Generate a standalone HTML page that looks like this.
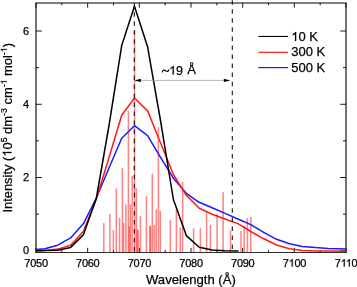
<!DOCTYPE html><html><head><meta charset="utf-8"><style>
html,body{margin:0;padding:0;background:#fff;}
svg{display:block;will-change:transform;}
text{font-family:"Liberation Sans",sans-serif;fill:#000;stroke:#000;stroke-width:0.25px;}
.o1{fill:none;stroke:none;}
</style></head><body>
<svg width="357" height="287" viewBox="0 0 357 287">
<path d="M36.0,252.5V3.0H346.0V252.5" fill="none" stroke="#000" stroke-width="1.1"/>
<path d="M35.5,252.5H346.5" fill="none" stroke="#000" stroke-opacity="0.82" stroke-width="1.0"/>
<path d="M36.00,252.5v-4.7M36.00,3.0v4.7M61.83,252.5v-2.4M61.83,3.0v2.4M87.67,252.5v-4.7M87.67,3.0v4.7M113.50,252.5v-2.4M113.50,3.0v2.4M139.33,252.5v-4.7M139.33,3.0v4.7M165.17,252.5v-2.4M165.17,3.0v2.4M191.00,252.5v-4.7M191.00,3.0v4.7M216.83,252.5v-2.4M216.83,3.0v2.4M242.67,252.5v-4.7M242.67,3.0v4.7M268.50,252.5v-2.4M268.50,3.0v2.4M294.33,252.5v-4.7M294.33,3.0v4.7M320.17,252.5v-2.4M320.17,3.0v2.4M346.00,252.5v-4.7M346.00,3.0v4.7M36.0,250.75h5.8M346.0,250.75h-5.8M36.0,214.13h3.0M346.0,214.13h-3.0M36.0,177.51h5.8M346.0,177.51h-5.8M36.0,140.89h3.0M346.0,140.89h-3.0M36.0,104.27h5.8M346.0,104.27h-5.8M36.0,67.65h3.0M346.0,67.65h-3.0M36.0,31.03h5.8M346.0,31.03h-5.8" stroke="#000" stroke-width="0.9" fill="none"/>
<g stroke="#ff1e1e" stroke-width="1.5" stroke-opacity="0.55">
<line x1="103.8" y1="252.0" x2="103.8" y2="223.0"/>
<line x1="109.9" y1="252.0" x2="109.9" y2="213.8"/>
<line x1="113.4" y1="252.0" x2="113.4" y2="230.0"/>
<line x1="116.3" y1="252.0" x2="116.3" y2="188.5"/>
<line x1="119.6" y1="252.0" x2="119.6" y2="217.7"/>
<line x1="122.4" y1="252.0" x2="122.4" y2="168.1"/>
<line x1="123.6" y1="252.0" x2="123.6" y2="222.9"/>
<line x1="125.9" y1="252.0" x2="125.9" y2="204.6"/>
<line x1="128.4" y1="252.0" x2="128.4" y2="110.6"/>
<line x1="129.4" y1="252.0" x2="129.4" y2="226.2"/>
<line x1="130.4" y1="252.0" x2="130.4" y2="204.3"/>
<line x1="132.2" y1="252.0" x2="132.2" y2="176.0"/>
<line x1="134.6" y1="252.0" x2="134.6" y2="30.2"/>
<line x1="136.3" y1="252.0" x2="136.3" y2="187.9"/>
<line x1="137.3" y1="252.0" x2="137.3" y2="229.5"/>
<line x1="138.2" y1="252.0" x2="138.2" y2="229.8"/>
<line x1="140.4" y1="252.0" x2="140.4" y2="216.3"/>
<line x1="146.4" y1="252.0" x2="146.4" y2="196.2"/>
<line x1="149.8" y1="252.0" x2="149.8" y2="225.7"/>
<line x1="150.5" y1="252.0" x2="150.5" y2="225.9"/>
<line x1="152.3" y1="252.0" x2="152.3" y2="173.7"/>
<line x1="154.2" y1="252.0" x2="154.2" y2="225.0"/>
<line x1="156.2" y1="252.0" x2="156.2" y2="209.2"/>
<line x1="158.4" y1="252.0" x2="158.4" y2="127.2"/>
<line x1="160.3" y1="252.0" x2="160.3" y2="210.8"/>
<line x1="170.3" y1="252.0" x2="170.3" y2="220.2"/>
<line x1="176.4" y1="252.0" x2="176.4" y2="209.5"/>
<line x1="180.2" y1="252.0" x2="180.2" y2="227.5"/>
<line x1="182.6" y1="252.0" x2="182.6" y2="182.1"/>
<line x1="193.6" y1="252.0" x2="193.6" y2="228.3"/>
<line x1="200.4" y1="252.0" x2="200.4" y2="228.3"/>
<line x1="206.6" y1="252.0" x2="206.6" y2="212.6"/>
<line x1="210.4" y1="252.0" x2="210.4" y2="224.8"/>
<line x1="217.1" y1="252.0" x2="217.1" y2="214.0"/>
<line x1="223.1" y1="252.0" x2="223.1" y2="192.2"/>
<line x1="230.5" y1="252.0" x2="230.5" y2="230.3"/>
<line x1="241.0" y1="252.0" x2="241.0" y2="231.0"/>
<line x1="244.2" y1="252.0" x2="244.2" y2="226.1"/>
<line x1="247.4" y1="252.0" x2="247.4" y2="218.1"/>
<line x1="250.8" y1="252.0" x2="250.8" y2="217.1"/>
</g>
<polyline points="36.00,249.50 44.80,248.80 57.70,245.20 70.60,237.90 83.50,223.60 96.30,198.00 109.00,168.00 121.70,138.30 134.45,125.70 147.60,135.60 160.50,157.30 173.40,178.20 186.30,193.30 199.20,202.30 212.10,207.80 225.00,213.40 237.90,219.00 250.80,224.60 263.70,232.30 276.60,239.30 289.50,243.80 302.40,246.40 315.30,247.60 328.20,248.40 346.00,248.90" fill="none" stroke="#1a1aff" stroke-width="1.5" stroke-linejoin="round"/>
<polyline points="36.00,250.80 44.80,250.40 57.70,249.10 70.60,245.20 83.50,231.20 96.30,199.00 109.00,157.50 121.70,115.20 134.45,98.00 147.60,110.90 160.50,142.80 173.40,174.50 186.30,195.30 199.20,208.30 212.10,214.20 225.00,219.00 237.90,223.60 250.80,231.50 263.70,238.80 276.60,245.00 289.50,248.80 302.40,250.40 315.30,250.90 328.20,251.10 346.00,251.20" fill="none" stroke="#ff1a1a" stroke-width="1.5" stroke-linejoin="round"/>
<polyline points="36.00,250.70 44.80,250.60 57.70,250.20 70.60,247.40 83.50,234.60 96.30,198.50 109.00,125.50 121.70,45.60 134.45,6.30 147.60,46.80 160.50,120.50 173.40,199.50 186.30,235.60 199.20,247.30 212.10,250.10 225.00,250.70 238.60,251.00" fill="none" stroke="#000" stroke-width="1.5" stroke-linejoin="round"/>
<line x1="134.3" y1="3.2" x2="134.3" y2="251.5" stroke="#111" stroke-width="1.1" stroke-dasharray="4.5 4.53"/>
<line x1="232.3" y1="0.2" x2="232.3" y2="251.5" stroke="#111" stroke-width="1.1" stroke-dasharray="4.5 4.55"/>
<line x1="140" y1="80.4" x2="225" y2="80.4" stroke="#999" stroke-width="0.7"/>
<polygon points="134.2,80.4 140.9,78.8 140.9,82.0" fill="#000"/>
<polygon points="230.4,80.4 223.8,78.8 223.8,82.0" fill="#000"/>
<path d="M162.4,71.8 C162.9,69.8 164.4,69.8 165.6,70.8 C166.9,71.8 168.2,71.9 168.7,69.9" fill="none" stroke="#000" stroke-width="1.25" stroke-linecap="round"/>
<text x="169.1" y="74.6" font-size="12.5"><tspan class="o1">1</tspan>9</text>
<text x="187.2" y="74.3" font-size="13">Å</text>
<text x="36.10" y="266.6" font-size="11" text-anchor="middle" letter-spacing="-0.25">7050</text>
<text x="87.77" y="266.6" font-size="11" text-anchor="middle" letter-spacing="-0.25">7060</text>
<text x="139.43" y="266.6" font-size="11" text-anchor="middle" letter-spacing="-0.25">7070</text>
<text x="191.10" y="266.6" font-size="11" text-anchor="middle" letter-spacing="-0.25">7080</text>
<text x="242.77" y="266.6" font-size="11" text-anchor="middle" letter-spacing="-0.25">7090</text>
<text x="294.43" y="266.6" font-size="11" text-anchor="middle" letter-spacing="-0.25">7<tspan class="o1">1</tspan>00</text>
<text x="346.10" y="266.6" font-size="11" text-anchor="middle" letter-spacing="-0.25">7<tspan class="o1">1</tspan><tspan class="o1">1</tspan>0</text>
<text x="29.2" y="254.25" font-size="11" text-anchor="end">0</text>
<text x="29.2" y="181.01" font-size="11" text-anchor="end">2</text>
<text x="29.2" y="107.77" font-size="11" text-anchor="end">4</text>
<text x="29.2" y="34.53" font-size="11" text-anchor="end">6</text>
<text x="146.0" y="283.8" font-size="13.1">Wavelength (Å)</text>
<text transform="translate(11.5,212.6) rotate(-90)" font-size="12.9">Intensity (<tspan class="o1">1</tspan>0<tspan dy="-4.7" font-size="8.8">5</tspan><tspan dy="4.7"> dm</tspan><tspan dy="-4.7" font-size="8.8">-3</tspan><tspan dy="4.7"> cm</tspan><tspan dy="-4.7" font-size="8.8">-<tspan class="o1">1</tspan></tspan><tspan dy="4.7"> mol</tspan><tspan dy="-4.7" font-size="8.8">-<tspan class="o1">1</tspan></tspan><tspan dy="4.7">)</tspan></text>
<line x1="258.4" y1="36.45" x2="288" y2="36.45" stroke="#000" stroke-width="1.05"/>
<line x1="258.4" y1="52.3" x2="288" y2="52.3" stroke="#ff1a1a" stroke-width="1.2"/>
<line x1="258.4" y1="67.6" x2="288" y2="67.6" stroke="#1a1aff" stroke-width="1.2"/>
<text x="291.3" y="40.9" font-size="13"><tspan class="o1">1</tspan>0 K</text>
<text x="291.3" y="56.3" font-size="13">300 K</text>
<text x="291.3" y="72.1" font-size="13">500 K</text>
<path d="M0.3726,0L0.2847,0L0.2847,0.5601C0.2637,0.5400 0.2358,0.5200 0.2017,0.5000C0.1670,0.4800 0.1362,0.4648 0.1089,0.4546L0.1089,0.5396C0.1582,0.5625 0.2012,0.5908 0.2383,0.6235C0.2754,0.6562 0.3018,0.6870 0.3169,0.7158L0.3726,0.7158Z" transform="translate(169.100,74.600) scale(12.5,-12.0125)" fill="#000" stroke="#000" stroke-width="0.25" vector-effect="non-scaling-stroke"/>
<path d="M0.3726,0L0.2847,0L0.2847,0.5601C0.2637,0.5400 0.2358,0.5200 0.2017,0.5000C0.1670,0.4800 0.1362,0.4648 0.1089,0.4546L0.1089,0.5396C0.1582,0.5625 0.2012,0.5908 0.2383,0.6235C0.2754,0.6562 0.3018,0.6870 0.3169,0.7158L0.3726,0.7158Z" transform="translate(288.555,266.600) scale(11,-10.5710)" fill="#000" stroke="#000" stroke-width="0.25" vector-effect="non-scaling-stroke"/>
<path d="M0.3726,0L0.2847,0L0.2847,0.5601C0.2637,0.5400 0.2358,0.5200 0.2017,0.5000C0.1670,0.4800 0.1362,0.4648 0.1089,0.4546L0.1089,0.5396C0.1582,0.5625 0.2012,0.5908 0.2383,0.6235C0.2754,0.6562 0.3018,0.6870 0.3169,0.7158L0.3726,0.7158Z" transform="translate(340.631,266.600) scale(11,-10.5710)" fill="#000" stroke="#000" stroke-width="0.25" vector-effect="non-scaling-stroke"/>
<path d="M0.3726,0L0.2847,0L0.2847,0.5601C0.2637,0.5400 0.2358,0.5200 0.2017,0.5000C0.1670,0.4800 0.1362,0.4648 0.1089,0.4546L0.1089,0.5396C0.1582,0.5625 0.2012,0.5908 0.2383,0.6235C0.2754,0.6562 0.3018,0.6870 0.3169,0.7158L0.3726,0.7158Z" transform="translate(345.694,266.600) scale(11,-10.5710)" fill="#000" stroke="#000" stroke-width="0.25" vector-effect="non-scaling-stroke"/>
<path d="M0.3726,0L0.2847,0L0.2847,0.5601C0.2637,0.5400 0.2358,0.5200 0.2017,0.5000C0.1670,0.4800 0.1362,0.4648 0.1089,0.4546L0.1089,0.5396C0.1582,0.5625 0.2012,0.5908 0.2383,0.6235C0.2754,0.6562 0.3018,0.6870 0.3169,0.7158L0.3726,0.7158Z" transform="translate(11.5,212.6) rotate(-90) translate(55.891,0.000) scale(12.9,-12.3969)" fill="#000" stroke="#000" stroke-width="0.25" vector-effect="non-scaling-stroke"/>
<path d="M0.3726,0L0.2847,0L0.2847,0.5601C0.2637,0.5400 0.2358,0.5200 0.2017,0.5000C0.1670,0.4800 0.1362,0.4648 0.1089,0.4546L0.1089,0.5396C0.1582,0.5625 0.2012,0.5908 0.2383,0.6235C0.2754,0.6562 0.3018,0.6870 0.3169,0.7158L0.3726,0.7158Z" transform="translate(11.5,212.6) rotate(-90) translate(128.172,-4.700) scale(8.8,-8.4568)" fill="#000" stroke="#000" stroke-width="0.25" vector-effect="non-scaling-stroke"/>
<path d="M0.3726,0L0.2847,0L0.2847,0.5601C0.2637,0.5400 0.2358,0.5200 0.2017,0.5000C0.1670,0.4800 0.1362,0.4648 0.1089,0.4546L0.1089,0.5396C0.1582,0.5625 0.2012,0.5908 0.2383,0.6235C0.2754,0.6562 0.3018,0.6870 0.3169,0.7158L0.3726,0.7158Z" transform="translate(11.5,212.6) rotate(-90) translate(160.375,-4.700) scale(8.8,-8.4568)" fill="#000" stroke="#000" stroke-width="0.25" vector-effect="non-scaling-stroke"/>
<path d="M0.3726,0L0.2847,0L0.2847,0.5601C0.2637,0.5400 0.2358,0.5200 0.2017,0.5000C0.1670,0.4800 0.1362,0.4648 0.1089,0.4546L0.1089,0.5396C0.1582,0.5625 0.2012,0.5908 0.2383,0.6235C0.2754,0.6562 0.3018,0.6870 0.3169,0.7158L0.3726,0.7158Z" transform="translate(291.300,40.900) scale(13,-12.4930)" fill="#000" stroke="#000" stroke-width="0.25" vector-effect="non-scaling-stroke"/>
</svg></body></html>
